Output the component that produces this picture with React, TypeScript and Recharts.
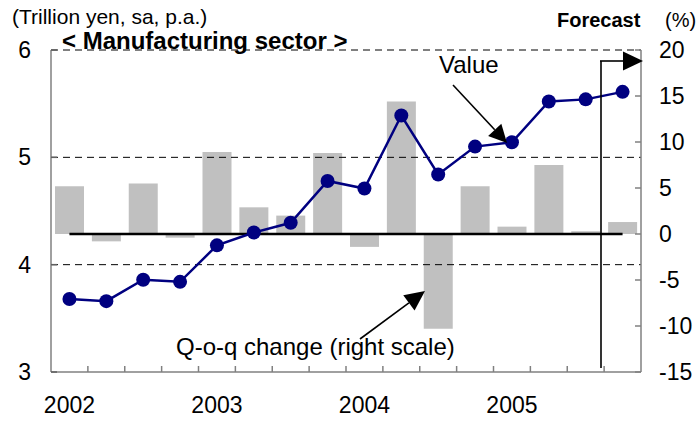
import React from 'react';
import {
  ComposedChart, Bar, Line, XAxis, YAxis, ReferenceLine
} from 'recharts';

// Quarterly data, 2002Q1 - 2005Q4
const quarters = [
  '2002Q1', '2002Q2', '2002Q3', '2002Q4',
  '2003Q1', '2003Q2', '2003Q3', '2003Q4',
  '2004Q1', '2004Q2', '2004Q3', '2004Q4',
  '2005Q1', '2005Q2', '2005Q3', '2005Q4',
];
const yearLabels = ['2002', '2003', '2004', '2005'];
// Value (trillion yen, left scale)
const valueSeries = [3.68, 3.66, 3.86, 3.84, 4.18, 4.30, 4.39, 4.78, 4.71, 5.39, 4.84, 5.10, 5.14, 5.52, 5.54, 5.61];
// Q-o-q change (%, right scale)
const qoqChange = [5.2, -0.8, 5.5, -0.4, 8.9, 2.9, 2.0, 8.8, -1.4, 14.4, -10.3, 5.2, 0.8, 7.5, 0.3, 1.3];
const leftTicks = [3, 4, 5, 6];
const rightTicks = [-15, -10, -5, 0, 5, 10, 15, 20];
const gridValues = [4, 5, 6];

const FONT = '"Liberation Sans", Arial, sans-serif';
const W = 700;
const H = 421;

const data = quarters.map((q, i) => ({
  idx: i,
  quarter: q,
  value: valueSeries[i],
  qoq: qoqChange[i],
}));

// tick marks at quarter boundaries, labels on the first quarter of each year
const boundaryTicks = quarters.slice(1).map((_, i) => i + 0.5);
const labelTicks = yearLabels.map((_, i) => i * 4);
const xTicks = [...labelTicks, ...boundaryTicks].sort((a, b) => a - b);

function QuarterTick(props: any) {
  const { x, y, payload } = props;
  const v = payload.value as number;
  if (Number.isInteger(v)) {
    return (
      <text x={x} y={y + 41} textAnchor="middle" fontSize={23} fontFamily={FONT} fill="#000">
        {yearLabels[v / 4]}
      </text>
    );
  }
  return <line x1={x} x2={x} y1={y} y2={y - 6} stroke="#808080" strokeWidth={1.5} />;
}

function Arrow({ x1, y1, x2, y2, head, half }: { x1: number; y1: number; x2: number; y2: number; head: number; half: number }) {
  const len = Math.hypot(x2 - x1, y2 - y1);
  const ux = (x2 - x1) / len;
  const uy = (y2 - y1) / len;
  const bx = x2 - ux * head;
  const by = y2 - uy * head;
  const px = -uy * half;
  const py = ux * half;
  return (
    <g>
      <line x1={x1} y1={y1} x2={bx} y2={by} stroke="#000" strokeWidth={1.6} />
      <polygon points={`${x2},${y2} ${bx + px},${by + py} ${bx - px},${by - py}`} fill="#000" />
    </g>
  );
}

export default function App() {
  return (
    <div style={{ position: 'absolute', left: 0, top: 0, width: W, height: H, background: '#fff' }}>
      <ComposedChart
        width={W}
        height={H}
        data={data}
        margin={{ top: 50, right: 0, bottom: 0, left: 0 }}
      >
        <XAxis
          dataKey="idx"
          type="number"
          domain={[-0.5, 15.5]}
          ticks={xTicks}
          interval={0}
          height={49}
          tickSize={0}
          tickMargin={0}
          tickLine={false}
          axisLine={{ stroke: '#808080', strokeWidth: 1.5 }}
          tick={<QuarterTick />}
        />
        <YAxis
          yAxisId="left"
          domain={[3, 6]}
          ticks={leftTicks}
          width={51}
          tickSize={-6}
          tickMargin={26}
          axisLine={{ stroke: '#808080', strokeWidth: 1.5 }}
          tickLine={{ stroke: '#606060', strokeWidth: 1.5 }}
          tick={{ fill: '#000', fontSize: 23, fontFamily: FONT }}
        />
        <YAxis
          yAxisId="right"
          orientation="right"
          domain={[-15, 20]}
          ticks={rightTicks}
          width={59}
          tickSize={-6}
          tickMargin={24}
          axisLine={{ stroke: '#808080', strokeWidth: 1.5 }}
          tickLine={{ stroke: '#808080', strokeWidth: 1.5 }}
          tick={{ fill: '#000', fontSize: 23, fontFamily: FONT }}
        />
        {gridValues.map((g) => (
          <ReferenceLine key={g} yAxisId="left" y={g} stroke="#000" strokeWidth={1} strokeDasharray="7 5" />
        ))}
        <Bar yAxisId="right" dataKey="qoq" fill="#C0C0C0" barSize={29} isAnimationActive={false} />
        <ReferenceLine
          yAxisId="right"
          segment={[{ x: 0, y: 0 }, { x: 15, y: 0 }]}
          stroke="#000"
          strokeWidth={2.5}
        />
        <Line
          yAxisId="left"
          dataKey="value"
          stroke="#000080"
          strokeWidth={2.5}
          dot={{ r: 7, fill: '#000080', stroke: '#000080', strokeWidth: 0 }}
          activeDot={false}
          isAnimationActive={false}
        />
      </ComposedChart>

      <svg width={W} height={H} style={{ position: 'absolute', left: 0, top: 0, pointerEvents: 'none' }}>
        <text x={12} y={24} fontSize={21} fontFamily={FONT} fill="#000">(Trillion yen, sa, p.a.)</text>
        <text x={62} y={49} fontSize={24} fontWeight="bold" fontFamily={FONT} fill="#000">
          {'< Manufacturing sector >'}
        </text>
        <text x={557} y={27} fontSize={20} fontWeight="bold" fontFamily={FONT} fill="#000">Forecast</text>
        <text x={665} y={27} fontSize={20} fontFamily={FONT} fill="#000">(%)</text>

        {/* forecast marker */}
        <line x1={601} y1={61} x2={601} y2={368} stroke="#000" strokeWidth={1.6} />
        <Arrow x1={600} y1={61} x2={643} y2={61} head={20} half={9.5} />

        <text x={439} y={73} fontSize={24} fontFamily={FONT} fill="#000">Value</text>
        <Arrow x1={453} y1={85} x2={507} y2={143} head={18} half={9} />

        <text x={176} y={355} fontSize={24} fontFamily={FONT} fill="#000">Q-o-q change (right scale)</text>
        <Arrow x1={360} y1={339} x2={425} y2={291} head={20} half={9.5} />
      </svg>
    </div>
  );
}
